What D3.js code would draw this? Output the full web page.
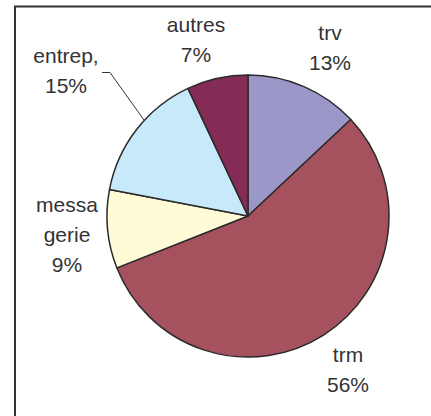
<!DOCTYPE html>
<html>
<head>
<meta charset="utf-8">
<script src="https://cdn.jsdelivr.net/npm/d3@7"></script>
<style>
  html, body { margin: 0; padding: 0; background: #fff; }
  svg { display: block; }
</style>
</head>
<body>
<svg id="chart" width="431" height="416"></svg>
<script>
// Data
const categories = ["trv", "trm", "messagerie", "entrep", "autres"];
const values = [13, 56, 9, 15, 7];
const labelLines = [["trv", "13%"], ["trm", "56%"], ["messa", "gerie", "9%"], ["entrep,", "15%"], ["autres", "7%"]];
const colors = ["#9B97C9", "#A5525E", "#FFFBD7", "#C7E9F9", "#842C55"];

const svg = d3.select("#chart");
const W = 431, H = 416;

// frame
svg.append("rect")
  .attr("x", 15).attr("y", 6.5)
  .attr("width", W + 10).attr("height", H + 10)
  .attr("fill", "#fff").attr("stroke", "#333").attr("stroke-width", 2);

const cx = 248, cy = 216, r = 141;
const data = categories.map((c, i) => ({ cat: c, value: values[i], color: colors[i], lines: labelLines[i] }));

const pie = d3.pie().value(d => d.value).sort(null);
const arc = d3.arc().innerRadius(0).outerRadius(r);
const arcs = pie(data);

const g = svg.append("g").attr("transform", `translate(${cx},${cy})`);
g.selectAll("path").data(arcs).enter().append("path")
  .attr("d", arc)
  .attr("fill", d => d.data.color)
  .attr("stroke", "#2b2b2b")
  .attr("stroke-width", 1.5)
  .attr("stroke-linejoin", "round");

// label anchor positions (first-line baseline)
const labelPos = {
  "trv":        { x: 330, y: 40 },
  "trm":        { x: 348, y: 362 },
  "messagerie": { x: 67,  y: 212 },
  "entrep":     { x: 66,  y: 63 },
  "autres":     { x: 196, y: 32 }
};

const lab = svg.append("g")
  .attr("font-family", "'Liberation Sans', Arial, sans-serif")
  .attr("font-size", 21)
  .attr("fill", "#333")
  .attr("text-anchor", "middle");

arcs.forEach(a => {
  const p = labelPos[a.data.cat];
  const t = lab.append("text").attr("x", p.x).attr("y", p.y);
  a.data.lines.forEach((ln, i) => {
    t.append("tspan").attr("x", p.x).attr("y", p.y + i * 30).text(ln);
  });
});

// leader line for entrep: ends on the pie edge
const ent = arcs[3];
const a0 = ent.startAngle + (ent.endAngle - ent.startAngle) * 0.59;
const edge = [cx + r * Math.sin(a0), cy - r * Math.cos(a0)];
svg.append("polyline")
  .attr("points", [[102, 72.5], [110, 72.5], edge].map(p => p.join(",")).join(" "))
  .attr("fill", "none").attr("stroke", "#333").attr("stroke-width", 1);
</script>
</body>
</html>
